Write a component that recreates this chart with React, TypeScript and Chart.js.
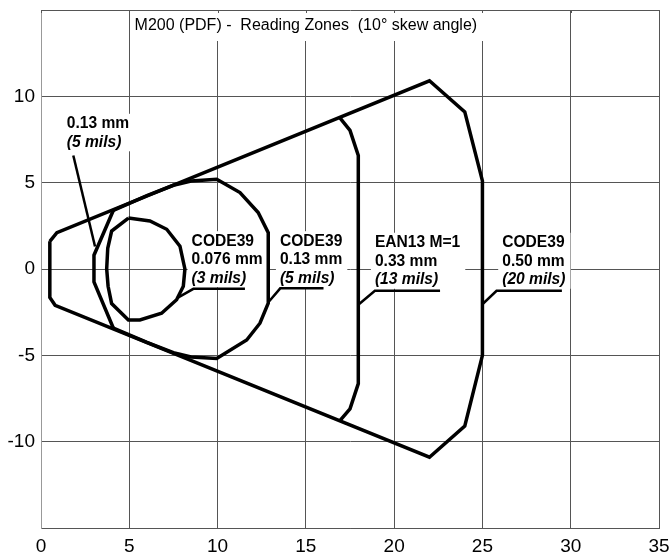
import React, { useEffect, useRef } from 'react';
import { Chart, registerables } from 'chart.js';

Chart.register(...registerables);

const FONT = '"Liberation Sans", Arial, Helvetica, sans-serif';

// ---------- text ----------
const TITLE = 'M200 (PDF) -  Reading Zones  (10\u00b0 skew angle)';
const X_TICKS = [0, 5, 10, 15, 20, 25, 30, 35];
const Y_TICKS = [-10, -5, 0, 5, 10];

// ---------- zones (x = distance, y = lateral) ----------
// CODE39 0.50 mm (20 mils) outer envelope, incl. field-of-view lines
const zone20mils: number[][] = [
  [0.5, 1.6], [0.9, 2.1], [22, 10.9], [24, 9.1], [25, 5.1], [25, -5.0],
  [24, -9.1], [22, -10.9], [0.8, -2.1], [0.5, -1.65], [0.5, 1.6],
];
// CODE39 0.13 mm (5 mils) near limit
const zone5milsNear: number[][] = [
  [4.1, 3.4], [3.0, 0.8], [3.0, -0.75], [4.1, -3.43],
];
// CODE39 0.13 mm (5 mils) far limit
const zone5milsFar: number[][] = [
  [4.1, 3.4], [6.0, 4.25], [7.5, 4.85], [8.5, 5.1], [9.95, 5.2], [11.27, 4.43],
  [12.3, 3.27], [12.87, 2.1], [12.87, -1.98], [12.4, -3.14], [11.65, -4.11],
  [9.95, -5.18], [8.5, -5.1], [7.5, -4.85], [6.0, -4.25], [4.1, -3.43],
];
// CODE39 0.076 mm (3 mils)
const zone3mils: number[][] = [
  [4.95, 2.95], [4.0, 2.2], [3.78, 1.2], [3.72, 0], [3.8, -1.0], [4.0, -2.0],
  [4.95, -2.95], [5.6, -2.95], [6.83, -2.56], [7.68, -1.78], [8.06, -1.0],
  [8.15, 0], [7.87, 1.32], [7.12, 2.3], [6.17, 2.78], [4.95, 2.95],
];
// EAN13 M=1 0.33 mm (13 mils) far limit
const zone13mils: number[][] = [
  [16.93, 8.75], [17.5, 8.03], [17.97, 6.57], [17.97, -6.64], [17.5, -8.1], [16.93, -8.78],
];

// ---------- leader lines ----------
const leader3mils: number[][] = [[7.68, -1.7], [8.63, -1.15], [11.55, -1.15]];
const leader5milsFar: number[][] = [[12.9, -1.9], [13.55, -1.12], [16.0, -1.12]];
const leader13mils: number[][] = [[17.97, -2.07], [18.91, -1.26], [22.6, -1.26]];
const leader20mils: number[][] = [[24.97, -2.07], [25.8, -1.26], [29.5, -1.26]];
const leader5milsNear: number[][] = [[1.83, 6.57], [3.06, 1.3]];

// ---------- labels ----------
const label3mils = ['CODE39', '0.076 mm', '(3 mils)'];
const label5milsFar = ['CODE39', '0.13 mm', '(5 mils)'];
const label13mils = ['EAN13 M=1', '0.33 mm', '(13 mils)'];
const label20mils = ['CODE39', '0.50 mm', '(20 mils)'];
const label5milsNear = ['0.13 mm', '(5 mils)'];

// anchors (data coords of the left edge / first text row)
const labelBlocks = [
  { lines: label3mils, x: 8.53, y: 1.61 },
  { lines: label5milsFar, x: 13.53, y: 1.61 },
  { lines: label13mils, x: 18.91, y: 1.52 },
  { lines: label20mils, x: 26.12, y: 1.52 },
  { lines: label5milsNear, x: 1.46, y: 8.41 },
];

const LINE_STEP = 18.5;
const LABEL_FONT_SIZE = 15.6;

const toXY = (pts: number[][]) => pts.map(([x, y]) => ({ x, y }));

const overlayPlugin = {
  id: 'overlay',
  beforeDatasetsDraw(chart: any) {
    const { ctx, chartArea, scales } = chart;
    const xs = scales.x;
    const ys = scales.y;
    ctx.save();
    ctx.fillStyle = '#fff';
    // title box
    const tl = xs.getPixelForValue(5.06);
    const tr = xs.getPixelForValue(25.15);
    ctx.fillRect(tl, chartArea.top + 1, tr - tl, 30);
    // label boxes
    labelBlocks.forEach((b) => {
      let maxW = 0;
      b.lines.forEach((l, i) => {
        const italic = i === b.lines.length - 1 && l.startsWith('(');
        ctx.font = `${italic ? 'italic ' : ''}bold ${LABEL_FONT_SIZE}px ${FONT}`;
        maxW = Math.max(maxW, ctx.measureText(l).width);
      });
      const px = xs.getPixelForValue(b.x);
      const py = ys.getPixelForValue(b.y);
      ctx.fillRect(px - 4, py - 10, maxW + 9, (b.lines.length - 1) * LINE_STEP + 19);
    });
    // small top ticks
    ctx.strokeStyle = '#555';
    ctx.lineWidth = 1;
    X_TICKS.forEach((v) => {
      const x = Math.round(xs.getPixelForValue(v)) + 0.5;
      ctx.beginPath();
      ctx.moveTo(x, chartArea.top);
      ctx.lineTo(x, chartArea.top + 3);
      ctx.stroke();
    });
    // title
    ctx.fillStyle = '#000';
    ctx.font = `16px ${FONT}`;
    ctx.textBaseline = 'middle';
    ctx.textAlign = 'left';
    ctx.fillText(TITLE, xs.getPixelForValue(5.3), chartArea.top + 16);
    ctx.restore();
  },
  afterDatasetsDraw(chart: any) {
    const { ctx, scales } = chart;
    const xs = scales.x;
    const ys = scales.y;
    ctx.save();
    ctx.fillStyle = '#000';
    ctx.textBaseline = 'middle';
    ctx.textAlign = 'left';
    labelBlocks.forEach((b) => {
      const px = xs.getPixelForValue(b.x);
      const py = ys.getPixelForValue(b.y);
      b.lines.forEach((l, i) => {
        const italic = i === b.lines.length - 1 && l.startsWith('(');
        ctx.font = `${italic ? 'italic ' : ''}bold ${LABEL_FONT_SIZE}px ${FONT}`;
        ctx.fillText(l, px, py + i * LINE_STEP);
      });
    });
    ctx.restore();
  },
};

export default function App() {
  const ref = useRef<HTMLCanvasElement | null>(null);

  useEffect(() => {
    if (!ref.current) return;
    const line = (pts: number[][], w: number) => ({
      data: toXY(pts),
      showLine: true,
      borderColor: '#000',
      backgroundColor: '#000',
      borderWidth: w,
      pointRadius: 0,
      pointHoverRadius: 0,
      fill: false,
      tension: 0,
    });
    const chart = new Chart(ref.current, {
      type: 'scatter',
      data: {
        datasets: [
          line(zone20mils, 3.5),
          line(zone5milsNear, 3.5),
          line(zone5milsFar, 3.5),
          line(zone3mils, 3.5),
          line(zone13mils, 3.5),
          line(leader3mils, 2.5),
          line(leader5milsFar, 2.5),
          line(leader13mils, 2.5),
          line(leader20mils, 2.5),
          line(leader5milsNear, 2.5),
        ],
      },
      options: {
        animation: false,
        responsive: false,
        devicePixelRatio: 1,
        events: [],
        layout: { padding: { top: 10, right: 13, left: 0, bottom: 0 } },
        plugins: {
          legend: { display: false },
          tooltip: { enabled: false },
          title: { display: false },
        },
        scales: {
          x: {
            type: 'linear',
            min: 0,
            max: 35,
            afterBuildTicks: (s: any) => {
              s.ticks = X_TICKS.map((v) => ({ value: v }));
            },
            afterFit: (s: any) => {
              s.height = 26;
              s.paddingLeft = 0;
              s.paddingRight = 0;
            },
            ticks: {
              color: '#000',
              font: { family: FONT, size: 19 },
              padding: 7,
              maxRotation: 0,
              autoSkip: false,
              callback: (v: any) => String(v),
            },
            grid: { color: '#555', lineWidth: 1, drawTicks: false },
            border: { color: '#555' },
          },
          y: {
            type: 'linear',
            min: -15,
            max: 15,
            afterBuildTicks: (s: any) => {
              s.ticks = [-15, ...Y_TICKS, 15].map((v) => ({ value: v }));
            },
            afterFit: (s: any) => {
              s.width = 41;
              s.paddingTop = 0;
              s.paddingBottom = 0;
            },
            ticks: {
              color: '#000',
              font: { family: FONT, size: 19 },
              padding: 6,
              autoSkip: false,
              callback: (v: any) => (Y_TICKS.includes(Number(v)) ? String(v) : ''),
            },
            grid: { color: '#555', lineWidth: 1, drawTicks: false },
            border: { color: '#999' },
          },
        },
      },
      plugins: [overlayPlugin],
    } as any);
    return () => chart.destroy();
  }, []);

  return (
    <div style={{ position: 'absolute', left: 0, top: 0, width: 672, height: 554, background: '#fff' }}>
      <canvas ref={ref} width={672} height={554} style={{ display: 'block' }} />
    </div>
  );
}
